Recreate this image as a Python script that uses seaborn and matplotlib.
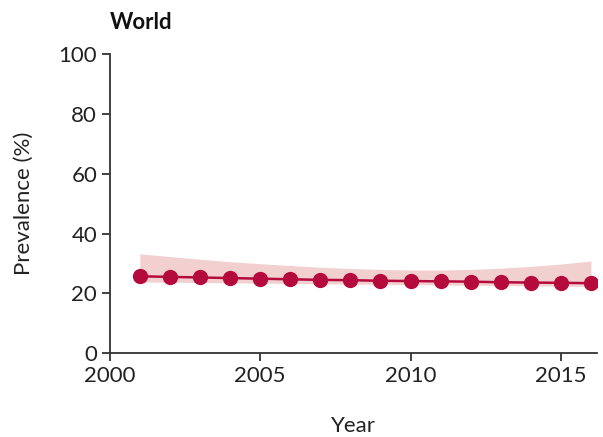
import matplotlib
matplotlib.use("Agg")
import matplotlib.pyplot as plt
import seaborn as sns
import pandas as pd

years = [2001, 2002, 2003, 2004, 2005, 2006, 2007, 2008, 2009, 2010, 2011, 2012, 2013, 2014, 2015, 2016]
prevalence = [25.7, 25.5, 25.3, 25.1, 24.9, 24.7, 24.5, 24.4, 24.2, 24.1, 24.0, 23.9, 23.7, 23.6, 23.5, 23.4]
upper = [33.2, 32.3, 31.4, 30.6, 29.9, 29.3, 28.7, 28.3, 28.0, 27.8, 27.8, 28.0, 28.4, 29.0, 29.8, 30.8]
lower = [23.8, 23.7, 23.6, 23.5, 23.4, 23.3, 23.2, 23.1, 23.0, 22.9, 22.8, 22.7, 22.6, 22.5, 22.4, 22.3]
xticks = [2000, 2005, 2010, 2015]
yticks = [0, 20, 40, 60, 80, 100]

df = pd.DataFrame({"Year": years, "Prevalence": prevalence})

sns.set_style("ticks")
plt.rcParams['font.family'] = ['Lato', 'DejaVu Sans']

fig = plt.figure(figsize=(6.03, 4.37), dpi=100)
ax = fig.add_axes([0.182, 0.192, 0.808, 0.684])

ax.fill_between(years, lower, upper, color="#f2d0cf", linewidth=0)
sns.lineplot(data=df, x="Year", y="Prevalence", ax=ax, color="#b50a3c",
             marker="o", markersize=11, markeredgewidth=0, linewidth=1.8)

ax.set_xlim(2000, 2016.2)
ax.set_ylim(0, 100)
ax.set_xticks(xticks)
ax.set_yticks(yticks)
ax.tick_params(labelsize=16, length=6, width=1.3, color="#333333", labelcolor="#222222", pad=3)
for s in ["top", "right"]:
    ax.spines[s].set_visible(False)
for s in ["left", "bottom"]:
    ax.spines[s].set_linewidth(1.3)
    ax.spines[s].set_color("#333333")
ax.set_xlabel("Year", fontsize=16, labelpad=22, color="#222222")
ax.set_ylabel("Prevalence (%)", fontsize=16, labelpad=18, color="#222222")
ax.text(0.0, 1.07, "World", transform=ax.transAxes, fontsize=16, fontweight="bold",
        ha="left", va="bottom", color="#111111")

fig.savefig("out.png", dpi=100)
